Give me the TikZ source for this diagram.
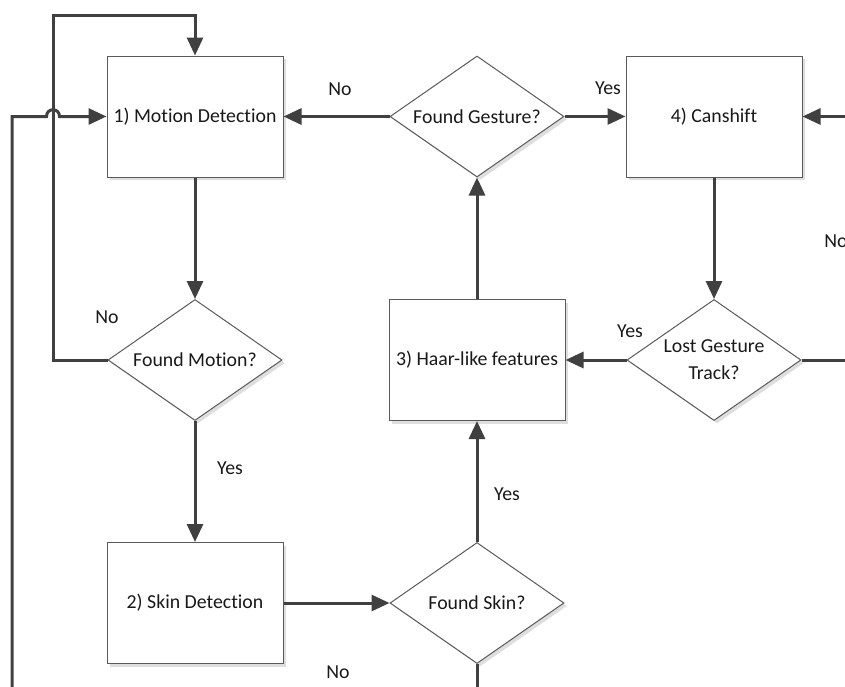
\documentclass[tikz,border=0pt]{standalone}
\usepackage{fontspec}
\setmainfont{Carlito}[Ligatures={NoCommon,NoRequired,NoContextual}]
\usetikzlibrary{shapes.geometric,arrows.meta,shadows}

\definecolor{linegray}{HTML}{404040}
\definecolor{edgegray}{HTML}{5A5A5A}

\tikzset{
  txt/.style={font=\fontsize{9.9}{13.5}\selectfont, text=black!90},
  shade/.style={drop shadow={shadow xshift=1.5pt, shadow yshift=-1.5pt, fill=black!13, opacity=1}},
  block/.style={txt, shade, draw=edgegray, line width=0.5pt, fill=white,
    minimum width=88pt, minimum height=60.5pt, inner sep=2pt},
  decision/.style={txt, shade, diamond, draw=edgegray, line width=0.5pt, fill=white,
    minimum width=87pt, minimum height=60.5pt, aspect=1.44, inner sep=0pt, align=center},
  link/.style={draw=linegray, line width=1.5pt},
  flow/.style={link, -{Triangle[length=9pt,width=8pt]}},
}

\begin{document}
\begin{tikzpicture}[x=0.5pt, y=-0.5pt]
  \useasboundingbox (0,0) rectangle (845,686);
  \clip (0,0) rectangle (845,686);

  % steps and checks
  \node[block] (motion) at (195,116.5) {1) Motion Detection};
  \node[decision] (fmotion) at (195,360) {Found Motion?};
  \node[block] (skin) at (195,603) {2) Skin Detection};
  \node[decision] (fskin) at (477,603) {Found Skin?};
  \node[block] (haar) at (477,360) {3) Haar-like features};
  \node[decision] (fgesture) at (477,116.5) {Found Gesture?};
  \node[block] (camshift) at (714,116.5) {4) Canshift};
  \node[decision] (lost) at (714,360) {Lost Gesture\\Track?};

  % bends and loose ends
  \coordinate (loopa) at (53,15);
  \coordinate (outl) at (12,700);
  \coordinate (hopa) at (46.5,116.5);
  \coordinate (hopb) at (59.5,116.5);
  \coordinate (outr) at (880,360);
  \coordinate (outb) at (477,700);

  \draw[flow] (motion) -- (fmotion);
  \draw[flow] (fmotion) -- (skin);
  \draw[flow] (skin) -- (fskin);
  \draw[flow] (fskin) -- (haar);
  \draw[flow] (haar) -- (fgesture);
  \draw[flow] (fgesture) -- (motion);
  \draw[flow] (fgesture) -- (camshift);
  \draw[flow] (camshift) -- (lost);
  \draw[flow] (lost) -- (haar);
  % loops back
  \draw[flow] (fmotion.west) -| (loopa) -| (motion.north);
  \draw[flow] (outl) |- (hopa) .. controls (46.5,107.5) and (59.5,107.5) .. (hopb) -- (motion.west);
  \draw[flow] (lost.east) -- (outr) |- (camshift.east);
  \draw[link] (fskin.south) -- (outb);

  % answers
  \node[txt] (nomotion) at (107,317) {No};
  \node[txt] (yesmotion) at (230,468) {Yes};
  \node[txt] (nogesture) at (340,89) {No};
  \node[txt] (yesgesture) at (608,88) {Yes};
  \node[txt] (yeslost) at (630,331) {Yes};
  \node[txt] (nolost) at (836,241) {No};
  \node[txt] (yesskin) at (507,494) {Yes};
  \node[txt] (noskin) at (338,672) {No};
\end{tikzpicture}
\end{document}
